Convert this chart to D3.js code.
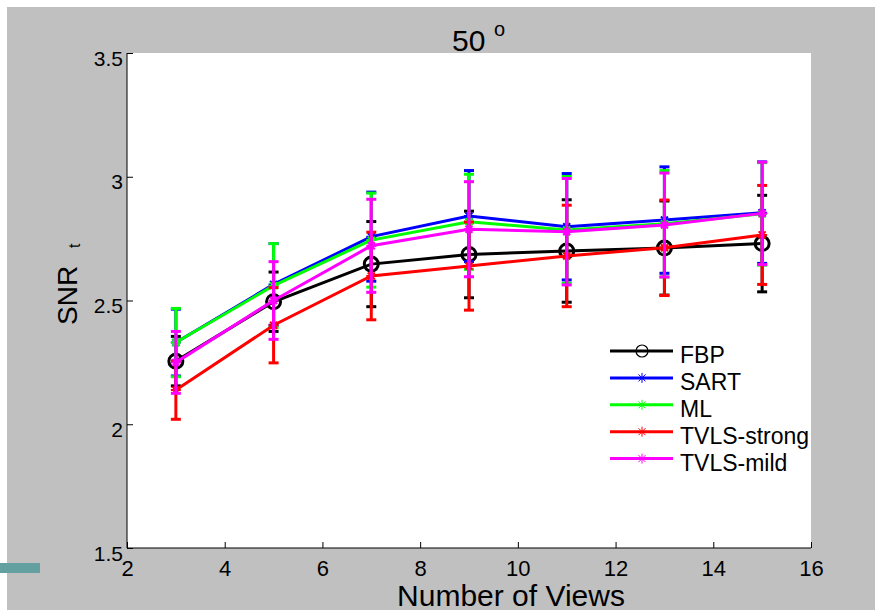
<!DOCTYPE html>
<html><head><meta charset="utf-8">
<script src="https://cdn.jsdelivr.net/npm/d3@7"></script>
<style>body{margin:0;background:#fff}svg{display:block}text{font-family:"Liberation Sans",Arial,sans-serif}</style>
</head><body>
<svg id="c" width="875" height="610"></svg>
<script>
const views = [3,5,7,9,11,13,15];
const seriesNames = ["FBP","SART","ML","TVLS-strong","TVLS-mild"];
const seriesColors = ["#000000","#0000ff","#00ff00","#ff0000","#ff00ff"];
const fbpMean   = [2.255,2.495,2.647,2.686,2.700,2.712,2.730];
const fbpStd    = [0.100,0.120,0.172,0.175,0.207,0.190,0.195];
const sartMean  = [2.330,2.565,2.758,2.841,2.798,2.825,2.855];
const sartStd   = [0.135,0.165,0.180,0.184,0.215,0.215,0.205];
const mlMean    = [2.330,2.560,2.744,2.818,2.785,2.810,2.850];
const mlStd     = [0.138,0.170,0.190,0.192,0.216,0.215,0.207];
const tvsMean   = [2.138,2.400,2.599,2.639,2.680,2.713,2.765];
const tvsStd    = [0.118,0.152,0.177,0.178,0.205,0.193,0.200];
const tvmMean   = [2.250,2.500,2.721,2.788,2.778,2.805,2.852];
const tvmStd    = [0.125,0.157,0.188,0.192,0.215,0.210,0.207];
const xTicks = [2,4,6,8,10,12,14,16];
const yTicks = [1.5,2,2.5,3,3.5];

const means = [fbpMean,sartMean,mlMean,tvsMean,tvmMean];
const stds  = [fbpStd,sartStd,mlStd,tvsStd,tvmStd];

const svg = d3.select("#c");
// backgrounds
svg.append("rect").attr("x",7).attr("y",7).attr("width",868).attr("height",603).attr("fill","#c0c0c0");
svg.append("rect").attr("x",0).attr("y",563).attr("width",40).attr("height",10).attr("fill","#64a0a0");

const L=127,R=811,T=53,B=548;
const x = d3.scaleLinear().domain([2,16]).range([L,R]);
const y = d3.scaleLinear().domain([1.5,3.5]).range([B,T]);

svg.append("rect").attr("x",L).attr("y",T).attr("width",R-L).attr("height",B-T).attr("fill","#fff");

// axes
const gx = svg.append("g").attr("transform",`translate(0,${B})`)
  .call(d3.axisBottom(x).tickValues(xTicks).tickSize(-6).tickPadding(0).tickFormat(d3.format("d")));
gx.select(".domain").attr("stroke","#000").attr("d",`M${L},0H${R}`);
gx.selectAll(".tick line").attr("stroke","#000");
gx.selectAll(".tick text").attr("font-size",22).attr("fill","#000").attr("y",28).attr("dy",0);

const gy = svg.append("g").attr("transform",`translate(${L},0)`)
  .call(d3.axisLeft(y).tickValues(yTicks).tickSize(-6).tickPadding(4).tickFormat(d=>d3.format("")(d)));
gy.select(".domain").attr("stroke","#000").attr("d",`M0,${T}V${B}`);
gy.selectAll(".tick line").attr("stroke","#000");
gy.selectAll(".tick text").attr("font-size",21).attr("fill","#000").attr("x",-4).attr("dy",12);

// plot clip not needed
const plot = svg.append("g");
const capW = 10;
const line = d3.line().x((d,i)=>x(views[i])).y(d=>y(d));

function star(g, cx, cy, s, color, w){
  const p = `M${cx-s},${cy}H${cx+s}M${cx},${cy-s}V${cy+s}M${cx-s*0.7},${cy-s*0.7}L${cx+s*0.7},${cy+s*0.7}M${cx-s*0.7},${cy+s*0.7}L${cx+s*0.7},${cy-s*0.7}`;
  g.append("path").attr("d",p).attr("stroke",color).attr("stroke-width",w).attr("fill","none");
}

means.forEach((m,si)=>{
  const col = seriesColors[si];
  const g = plot.append("g");
  m.forEach((v,i)=>{
    const cx = x(views[i]);
    const lo = y(v - stds[si][i]), hi = y(v + stds[si][i]);
    g.append("line").attr("x1",cx).attr("x2",cx).attr("y1",lo).attr("y2",hi).attr("stroke",col).attr("stroke-width",3);
    g.append("line").attr("x1",cx-capW/2).attr("x2",cx+capW/2).attr("y1",lo).attr("y2",lo).attr("stroke",col).attr("stroke-width",3);
    g.append("line").attr("x1",cx-capW/2).attr("x2",cx+capW/2).attr("y1",hi).attr("y2",hi).attr("stroke",col).attr("stroke-width",3);
  });
  g.append("path").attr("d",line(m)).attr("fill","none").attr("stroke",col).attr("stroke-width",3);
  m.forEach((v,i)=>{
    const cx = x(views[i]), cy = y(v);
    if(si===0){
      g.append("circle").attr("cx",cx).attr("cy",cy).attr("r",7).attr("fill","none").attr("stroke",col).attr("stroke-width",3);
    } else {
      star(g,cx,cy,5,col,2);
    }
  });
});

// legend
const leg = svg.append("g");
const ly0 = 351, ldy = 26.9;
seriesNames.forEach((n,i)=>{
  const yy = ly0 + i*ldy;
  leg.append("line").attr("x1",610).attr("x2",673).attr("y1",yy).attr("y2",yy).attr("stroke",seriesColors[i]).attr("stroke-width",3);
  if(i===0){
    leg.append("circle").attr("cx",642).attr("cy",yy).attr("r",6).attr("fill","none").attr("stroke","#000").attr("stroke-width",1.2);
  } else {
    star(leg,642,yy,5,seriesColors[i],1);
  }
  leg.append("text").attr("x",680).attr("y",yy+12).attr("font-size",23).attr("fill","#000").text(n);
});

// title
svg.append("text").attr("x",452).attr("y",51).attr("font-size",30).attr("fill","#000").text("50");
svg.append("text").attr("x",494).attr("y",36).attr("font-size",20).attr("fill","#000").text("o");

// y label
svg.append("text").attr("transform","translate(77,325) rotate(-90)").attr("font-size",28).attr("fill","#000").text("SNR");
svg.append("text").attr("transform","translate(80,248) rotate(-90)").attr("font-size",16).attr("fill","#000").text("t");

// x label
svg.append("text").attr("x",511).attr("y",606).attr("text-anchor","middle").attr("font-size",30).attr("fill","#000").text("Number of Views");
</script>
</body></html>
